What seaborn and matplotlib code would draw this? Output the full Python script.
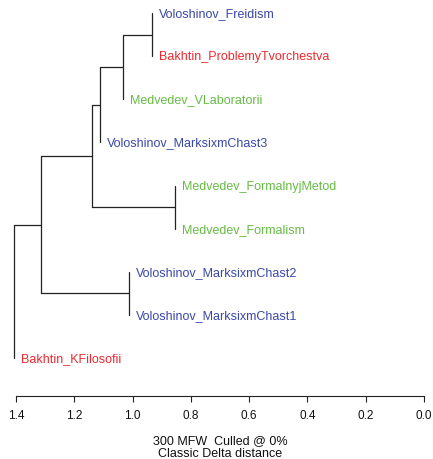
import matplotlib
matplotlib.use("Agg")
import matplotlib.pyplot as plt
import numpy as np
import pandas as pd
import seaborn as sns

# leaves, top to bottom as they appear in the dendrogram
leaf_names = ["Voloshinov_Freidism", "Bakhtin_ProblemyTvorchestva", "Medvedev_VLaboratorii",
              "Voloshinov_MarksixmChast3", "Medvedev_FormalnyjMetod", "Medvedev_Formalism",
              "Voloshinov_MarksixmChast2", "Voloshinov_MarksixmChast1", "Bakhtin_KFilosofii"]
leaf_colors = ["#3a48a8", "#ee2a2f", "#66bb44", "#3a48a8", "#66bb44", "#66bb44",
               "#3a48a8", "#3a48a8", "#ee2a2f"]

# merges (node n1..n8), with the height of each merge
merge_left = ["Voloshinov_Freidism", "n1", "n2", "Medvedev_FormalnyjMetod", "n3",
              "Voloshinov_MarksixmChast2", "n5", "n7"]
merge_right = ["Bakhtin_ProblemyTvorchestva", "Medvedev_VLaboratorii", "Voloshinov_MarksixmChast3",
               "Medvedev_Formalism", "n4", "Voloshinov_MarksixmChast1", "n6", "Bakhtin_KFilosofii"]
merge_height = [0.933, 1.033, 1.112, 0.854, 1.139, 1.012, 1.314, 1.408]

x_ticks = [1.4, 1.2, 1.0, 0.8, 0.6, 0.4, 0.2, 0.0]

sns.set_style("white")
plt.rcParams["font.family"] = ["Liberation Sans", "DejaVu Sans"]

fig = plt.figure(figsize=(4.33, 4.6), dpi=100)
ax = fig.add_axes([10 / 433, 63 / 460, 420 / 433, 392 / 460])

# work out node positions
ypos = {name: i for i, name in enumerate(leaf_names)}
xpos = {}
leaf_x = {}
rows = []
seg = 0
for i, (l, r, h) in enumerate(zip(merge_left, merge_right, merge_height)):
    node = f"n{i + 1}"
    for child in (l, r):
        if child in xpos:
            rows.append((seg, xpos[child], ypos[child]))
            rows.append((seg, h, ypos[child]))
            seg += 1
        else:
            leaf_x[child] = h
    rows.append((seg, h, ypos[l]))
    rows.append((seg, h, ypos[r]))
    seg += 1
    xpos[node] = h
    ypos[node] = (ypos[l] + ypos[r]) / 2

segs = pd.DataFrame(rows, columns=["seg", "x", "y"])
sns.lineplot(data=segs, x="x", y="y", units="seg", estimator=None, sort=False,
             color="#222222", linewidth=0.9, ax=ax)

for name, col in zip(leaf_names, leaf_colors):
    ax.annotate(name, (leaf_x[name], ypos[name]), xytext=(5, 0), textcoords="offset points",
                ha="left", va="center", color=col, fontsize=9)

ax.set_xlim(1.4206, -0.0206)
ax.set_ylim(8.88, -0.21)
ax.set_xticks(x_ticks)
ax.set_xticklabels([f"{t:.1f}" for t in x_ticks], fontsize=8.5, color="#111111")
ax.set_yticks([])
ax.set_xlabel("")
ax.set_ylabel("")
for s in ["top", "left", "right"]:
    ax.spines[s].set_visible(False)
ax.spines["bottom"].set_bounds(0, 1.4)
ax.spines["bottom"].set_color("#222222")
ax.spines["bottom"].set_linewidth(0.8)
ax.tick_params(axis="x", direction="out", length=4.5, width=0.8, color="#222222", pad=5,
               bottom=True)

fig.text(220 / 433, 1 - 447.5 / 460, "300 MFW  Culled @ 0%\nClassic Delta distance",
         ha="center", va="center", fontsize=9, linespacing=1.02, color="#111111")

fig.savefig("out.png", dpi=100)
